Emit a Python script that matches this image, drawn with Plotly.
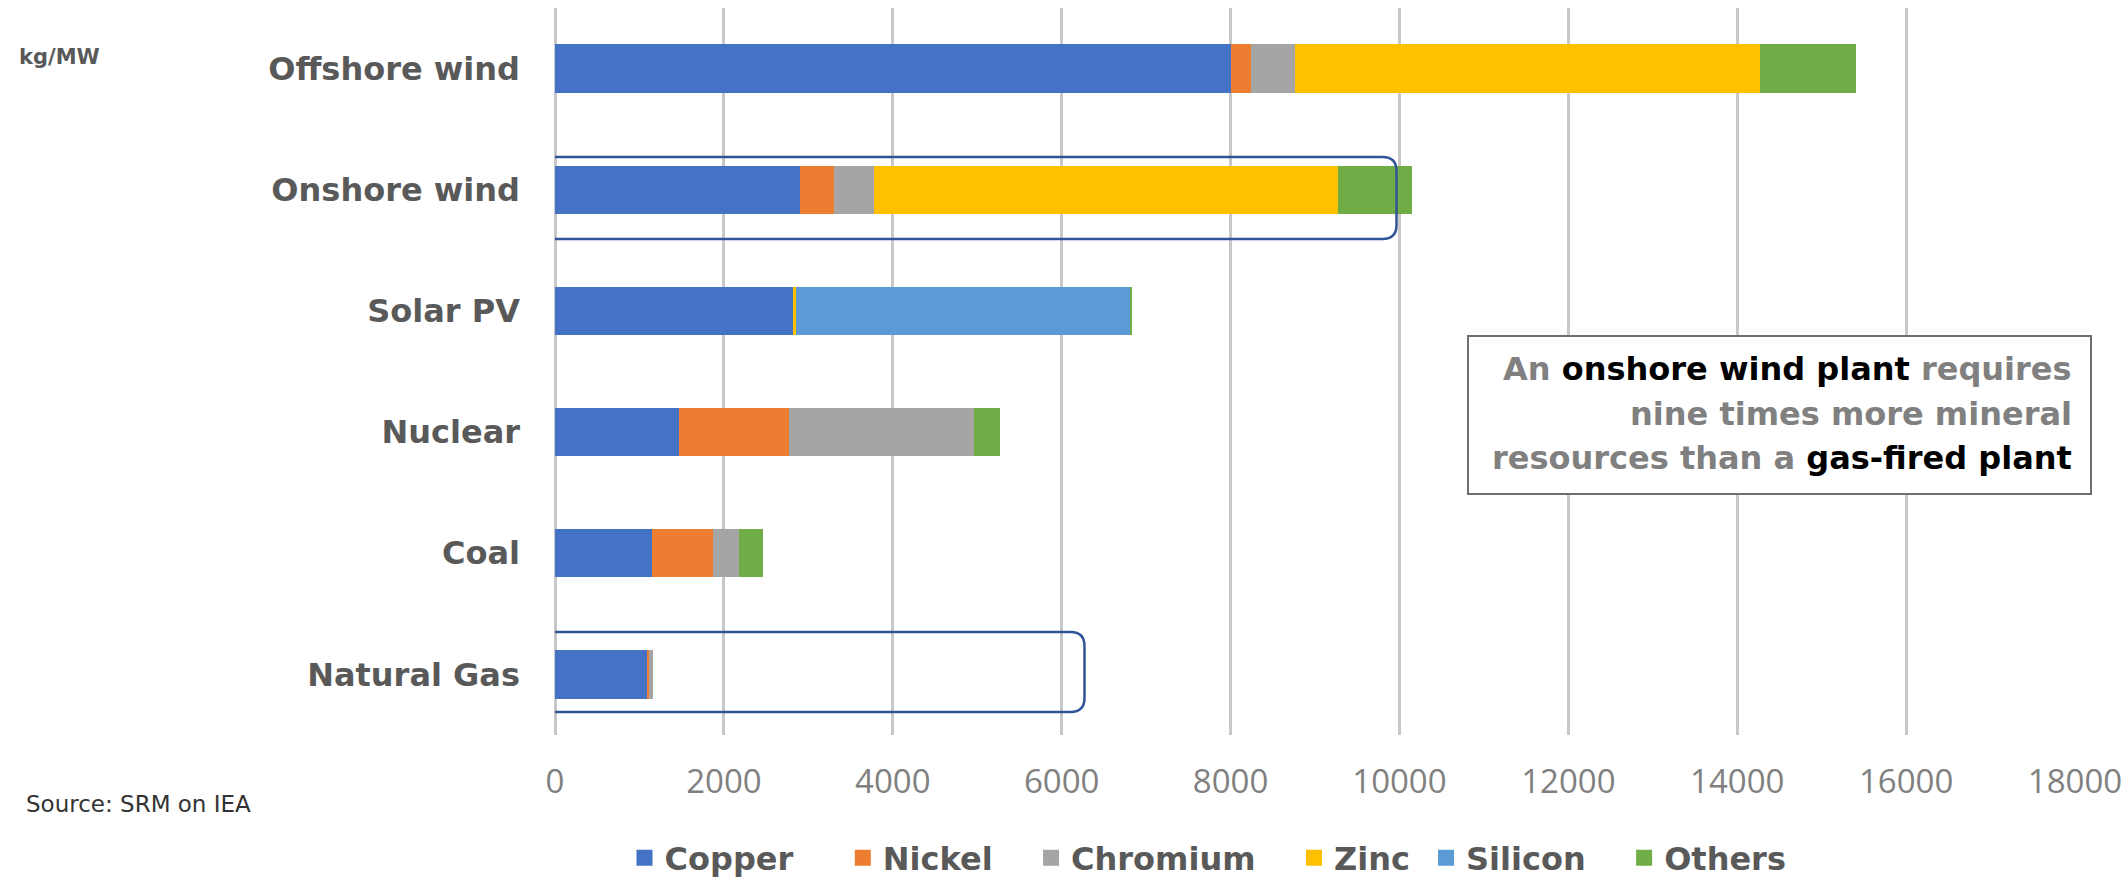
import plotly.graph_objects as go

categories = ["Offshore wind", "Onshore wind", "Solar PV", "Nuclear", "Coal", "Natural Gas"]
copper = [8000, 2900, 2822, 1473, 1150, 1100]
nickel = [240, 404, 0, 1297, 721, 16]
chromium = [525, 470, 0, 2190, 308, 48]
zinc = [5500, 5500, 30, 0, 0, 0]
silicon = [0, 0, 3960, 0, 0, 0]
others = [1140, 880, 10, 310, 290, 0]
x_ticks = [0, 2000, 4000, 6000, 8000, 10000, 12000, 14000, 16000, 18000]
x_tick_labels = ["0", "2000", "4000", "6000", "8000", "10000", "12000", "14000", "16000", "18000"]

series = [
    ("Copper", copper, "#4472C4"),
    ("Nickel", nickel, "#ED7D31"),
    ("Chromium", chromium, "#A5A5A5"),
    ("Zinc", zinc, "#FFC000"),
    ("Silicon", silicon, "#5B9BD5"),
    ("Others", others, "#70AD47"),
]
# legend padding (non-breaking spaces) to mimic the wider original spacing
legend_pad = [4, 3, 3, 1, 3, 0]

W, H = 2126, 880
L, R, T, B = 555, 51, 8, 145
PW, PH = W - L - R, H - T - B


def px(xp):
    return (xp - L) / PW


def py(yp):
    return (H - B - yp) / PH


fig = go.Figure()
for name, vals, col in series:
    fig.add_trace(go.Bar(
        y=categories, x=vals, name=name, orientation="h",
        marker=dict(color=col, line=dict(width=0)),
        showlegend=False,
    ))
for (name, vals, col), pad in zip(series, legend_pad):
    fig.add_trace(go.Scatter(
        x=[None], y=[None], mode="markers", name=name + "\u00a0" * pad,
        marker=dict(symbol="square", size=18, color=col),
        showlegend=True,
    ))

GRID = "#c8c8c8"
fig.update_layout(
    width=W, height=H,
    margin=dict(l=L, r=R, t=T, b=B, autoexpand=False),
    barmode="stack", bargap=0.6,
    plot_bgcolor="white", paper_bgcolor="white",
    font=dict(family="DejaVu Sans", color="#595959"),
    xaxis=dict(
        range=[0, 18000], tickvals=x_ticks, ticktext=x_tick_labels,
        showgrid=True, gridcolor=GRID, gridwidth=3,
        zeroline=True, zerolinecolor=GRID, zerolinewidth=3,
        showline=False, ticks="", automargin=False,
        tickfont=dict(family="Open Sans", size=33, color="#808080"),
        ticklabelstandoff=24,
    ),
    yaxis=dict(
        categoryorder="array", categoryarray=categories,
        autorange="reversed", showgrid=False, zeroline=False,
        showline=False, ticks="", automargin=False,
        tickfont=dict(family="DejaVu Sans", size=32, color="#595959", weight="bold"),
        ticklabelstandoff=34,
    ),
    legend=dict(
        orientation="h", x=px(1208), xanchor="center",
        y=py(858), yanchor="middle", traceorder="normal",
        font=dict(family="DejaVu Sans", size=32, color="#595959", weight="bold"),
        itemsizing="trace", tracegroupgap=0,
    ),
)


def rounded(xl, xr, yt, yb, r):
    return (f"M {xl + r},{yt} L {xr - r},{yt} Q {xr},{yt} {xr},{yt - r} "
            f"L {xr},{yb + r} Q {xr},{yb} {xr - r},{yb} L {xl + r},{yb} "
            f"Q {xl},{yb} {xl},{yb + r} L {xl},{yt - r} Q {xl},{yt} {xl + r},{yt} Z")


BOXC = "#2F5597"
fig.add_shape(type="path", xref="x", yref="y", xsizemode="pixel", ysizemode="pixel",
              xanchor=0, yanchor="Onshore wind",
              path=rounded(-388.5, 841.5, 32.7, -49.3, 14),
              line=dict(color=BOXC, width=2.5), layer="above")
fig.add_shape(type="path", xref="x", yref="y", xsizemode="pixel", ysizemode="pixel",
              xanchor=0, yanchor="Natural Gas",
              path=rounded(-388.5, 529.5, 42.4, -37.6, 14),
              line=dict(color=BOXC, width=2.5), layer="above")

# text box
fig.add_shape(type="rect", xref="paper", yref="paper",
              x0=px(1468), x1=px(2091), y0=py(494), y1=py(336),
              line=dict(color="#6e6e6e", width=2), fillcolor="white", layer="above")
G = "#808080"
lines = [
    (369, f"<span style='color:{G}'>An </span><span style='color:#000'>onshore wind plant</span><span style='color:{G}'> requires</span>"),
    (414, f"<span style='color:{G}'>nine times more mineral</span>"),
    (458, f"<span style='color:{G}'>resources than a </span><span style='color:#000'>gas-fired plant</span>"),
]
for yy, txt in lines:
    fig.add_annotation(xref="paper", yref="paper", x=px(2074), y=py(yy),
                       xanchor="right", yanchor="middle", showarrow=False,
                       text=txt, font=dict(family="DejaVu Sans", size=32, weight="bold"))

fig.add_annotation(xref="paper", yref="paper", x=px(17), y=py(57),
                   xanchor="left", yanchor="middle", showarrow=False,
                   text="kg/MW", font=dict(family="DejaVu Sans", size=21, color="#595959", weight="bold"))
fig.add_annotation(xref="paper", yref="paper", x=px(24), y=py(804),
                   xanchor="left", yanchor="middle", showarrow=False,
                   text="Source: SRM on IEA", font=dict(family="DejaVu Sans", size=23, color="#333333"))

fig.write_html("out.html")
